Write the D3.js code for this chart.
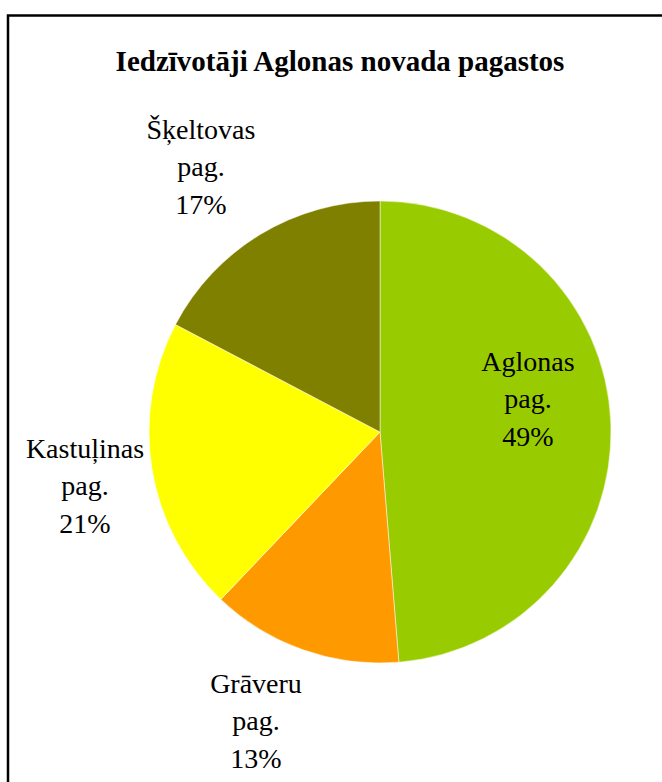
<!DOCTYPE html>
<html>
<head>
<meta charset="utf-8">
<script src="https://cdn.jsdelivr.net/npm/d3@7"></script>
</head>
<body style="margin:0">
<div id="chart"></div>
<script>
// Data (shares, clockwise from 12 o'clock)
const categories = ['Aglonas pag.', 'Grāveru pag.', 'Kastuļinas pag.', 'Šķeltovas pag.'];
const shares = [48.7, 13.4, 20.6, 17.3];
const colors = ['#99cc00', '#ff9900', '#ffff00', '#808000'];
const title = 'Iedzīvotāji Aglonas novada pagastos';

// Layout
const width = 662, height = 782;
const cx = 380, cy = 432, radius = 231;
const lineGap = 37.5;
// label block offsets (middle line baseline) from the pie centre
const labelOffsets = [[148, -24], [-124, 298], [-295, 63], [-179, -256]];

const svg = d3.select('#chart')
    .append('svg')
    .attr('width', width)
    .attr('height', height);

// chart frame (runs off the right and bottom of the picture)
svg.append('rect')
    .attr('x', 8)
    .attr('y', 15.5)
    .attr('width', 800)
    .attr('height', 900)
    .attr('fill', 'none')
    .attr('stroke', '#000')
    .attr('stroke-width', 2.5);

const data = categories.map((c, i) => ({ name: c, value: shares[i], color: colors[i] }));
const total = d3.sum(shares);

const pie = d3.pie()
    .sort(null)
    .value(d => d.value);

const arc = d3.arc()
    .innerRadius(0)
    .outerRadius(radius);

svg.append('g')
    .attr('transform', `translate(${cx},${cy})`)
    .selectAll('path')
    .data(pie(data))
    .join('path')
    .attr('d', arc)
    .attr('fill', d => d.data.color)
    .attr('stroke', '#fff')
    .attr('stroke-width', 0.5);

svg.append('text')
    .attr('x', 340)
    .attr('y', 71)
    .attr('text-anchor', 'middle')
    .style('font-family', '"Times New Roman"')
    .style('font-size', '29px')
    .style('font-weight', 'bold')
    .text(title);

// labels: name, "pag.", percent
const lines = [];
data.forEach((d, i) => {
    const parts = d.name.split(' ');
    [parts[0], parts[1], Math.round(d.value / total * 100) + '%'].forEach((t, j) => {
        lines.push({ t, x: cx + labelOffsets[i][0], y: cy + labelOffsets[i][1] + (j - 1) * lineGap });
    });
});

svg.selectAll('text.lbl')
    .data(lines)
    .join('text')
    .attr('class', 'lbl')
    .attr('x', d => d.x)
    .attr('y', d => d.y)
    .attr('text-anchor', 'middle')
    .style('font-family', '"Times New Roman"')
    .style('font-size', '28px')
    .text(d => d.t);
</script>
</body>
</html>
